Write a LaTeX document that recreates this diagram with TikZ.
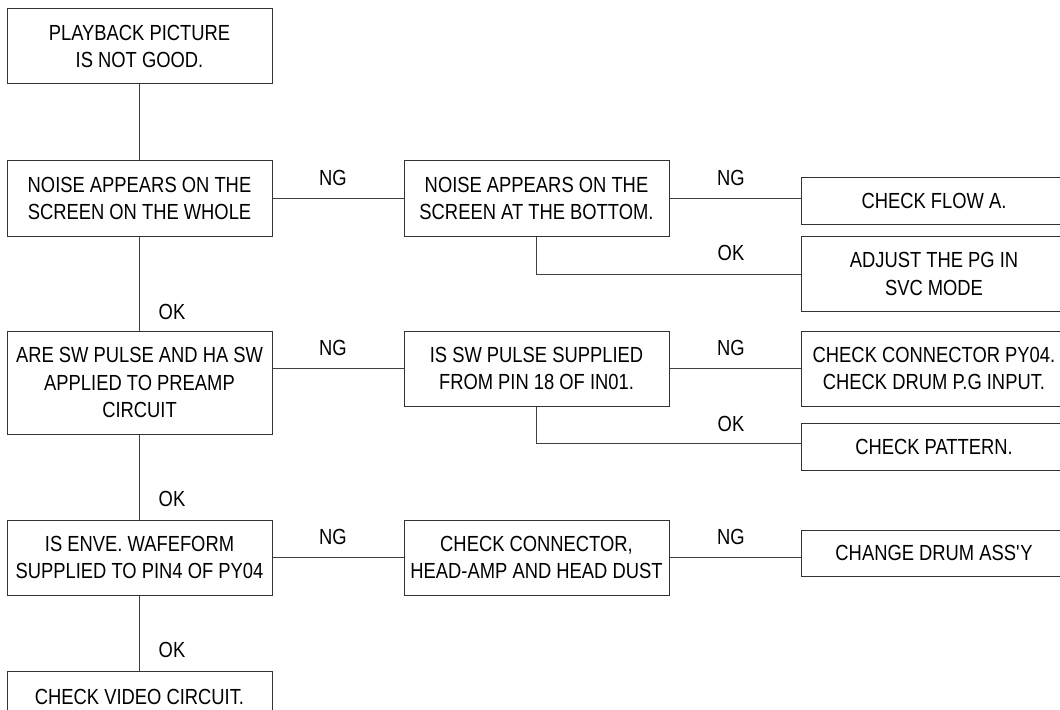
\documentclass[tikz,border=0pt]{standalone}
\usepackage{fontspec}
\setmainfont{Liberation Sans}[FakeStretch=0.84]
\begin{document}
\begin{tikzpicture}[x=0.75pt,y=-0.75pt,
  every node/.style={font=\fontsize{16.4}{20.8}\selectfont},
  fbox/.style={draw=black!80,line width=0.75pt,fill=white,align=center,inner sep=0pt,minimum width=198.75pt},
  conn/.style={draw=black!75,line width=0.75pt},
  lbl/.style={inner sep=0pt}]
\useasboundingbox (0,0) rectangle (1060,710);
\clip (0,0) rectangle (1060,710);
\node[fbox,minimum height=56.25pt] (b1) at (139.5,46.5) {PLAYBACK PICTURE\\IS NOT GOOD.};
\node[fbox,minimum height=57pt] (b2) at (139.5,198.5) {NOISE APPEARS ON THE\\SCREEN ON THE WHOLE};
\node[fbox,minimum height=57pt] (b3) at (536.5,198.5) {NOISE APPEARS ON THE\\SCREEN AT THE BOTTOM.};
\node[fbox,minimum height=35.25pt] (b4) at (934,200.5) {CHECK FLOW A.};
\node[fbox,minimum height=56.25pt] (b5) at (934,274) {ADJUST THE PG IN\\SVC MODE};
\node[fbox,minimum height=77.25pt] (b6) at (139.5,382.5) {ARE SW PULSE AND HA SW\\APPLIED TO PREAMP\\CIRCUIT};
\node[fbox,minimum height=56.25pt] (b7) at (536.5,368.5) {IS SW PULSE SUPPLIED\\FROM PIN 18 OF IN01.};
\node[fbox,minimum height=56.25pt] (b8) at (934,368.5) {CHECK CONNECTOR PY04.\\CHECK DRUM P.G INPUT.};
\node[fbox,minimum height=35.25pt] (b9) at (934,446.5) {CHECK PATTERN.};
\node[fbox,minimum height=56.25pt] (b10) at (139.5,557.5) {IS ENVE. WAFEFORM\\SUPPLIED TO PIN4 OF PY04};
\node[fbox,minimum height=56.25pt] (b11) at (536.5,557.5) {CHECK CONNECTOR,\\HEAD-AMP AND HEAD DUST};
\node[fbox,minimum height=34.5pt] (b12) at (934,553) {CHANGE DRUM ASS\textquotesingle Y};
\node[fbox,minimum height=45pt,anchor=north] (b13) at (139.5,670.7) {};
\node[inner sep=0pt] (t13) at (139.5,697) {CHECK VIDEO CIRCUIT.};
% connectors
\path[conn] (b1.south) -- (b2.north);
\path[conn] (b2.east) -- (b3.west);
\path[conn] (b3.east) -- (b3.east -| b4.west);
\path[conn] (b3.south) |- (b5.west);
\path[conn] (b2.south) -- (b6.north);
\path[conn] (b6.east |- b7.west) -- (b7.west);
\path[conn] (b7.east) -- (b8.west);
\path[conn] (b7.south) |- ([yshift=1.9pt]b9.west);
\path[conn] (b6.south) -- (b10.north);
\path[conn] (b10.east) -- (b11.west);
\path[conn] (b11.east) -- (b11.east -| b12.west);
\path[conn] (b10.south) -- (b13.north);
% labels
\node[lbl] (l1) at (333,177.5) {NG};
\node[lbl] (l2) at (731,177.5) {NG};
\node[lbl] (l3) at (731,253) {OK};
\node[lbl] (l4) at (172,311.5) {OK};
\node[lbl] (l5) at (333,348) {NG};
\node[lbl] (l6) at (731,348) {NG};
\node[lbl] (l7) at (731,423.5) {OK};
\node[lbl] (l8) at (172,499) {OK};
\node[lbl] (l9) at (333,536.5) {NG};
\node[lbl] (l10) at (731,536.5) {NG};
\node[lbl] (l11) at (172,650) {OK};
\end{tikzpicture}
\end{document}
